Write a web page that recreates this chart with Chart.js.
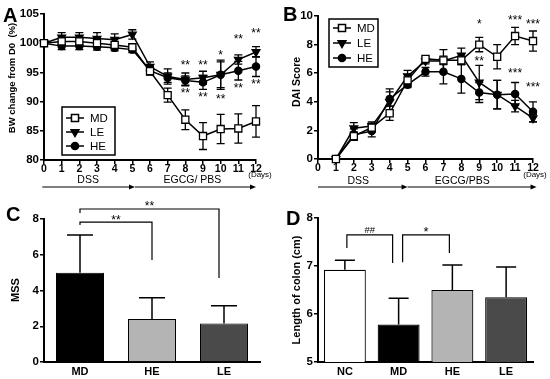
<!DOCTYPE html>
<html>
<head>
<meta charset="utf-8">
<script src="https://cdn.jsdelivr.net/npm/chart.js@4.4.1/dist/chart.umd.min.js"></script>
<style>
  body { margin: 0; background: #fff; }
  #wrap { position: relative; width: 550px; height: 379px; }
  canvas { position: absolute; }
</style>
</head>
<body>
<div id="wrap">
  <canvas id="a" width="275" height="200" style="left:0;top:0"></canvas>
  <canvas id="b" width="275" height="200" style="left:275px;top:0"></canvas>
  <canvas id="c" width="275" height="189" style="left:0;top:190px"></canvas>
  <canvas id="d" width="275" height="189" style="left:275px;top:190px"></canvas>
</div>
<script>
// panel A - body weight change (%)
const daysA = [0, 1, 2, 3, 4, 5, 6, 7, 8, 9, 10, 11, 12];
const bwMD = [100, 100.3, 100.3, 100.0, 99.7, 99.3, 95.2, 91.1, 86.9, 84.1, 85.3, 85.4, 86.6];
const bwMDerr = [0, 0.5, 0.5, 0.5, 0.5, 0.5, 0.6, 1.2, 1.7, 2.3, 2.5, 2.5, 2.7];
const bwLE = [100, 101.0, 101.0, 100.8, 100.6, 101.5, 96.0, 94.3, 93.8, 94.1, 94.6, 97.2, 98.5];
const bwLEerr = [0, 0.8, 0.8, 1.0, 1.0, 0.8, 0.8, 1.3, 1.1, 1.1, 2.2, 0.8, 0.9];
const bwHE = [100, 99.5, 99.5, 99.4, 99.2, 98.9, 95.3, 94.1, 93.6, 93.3, 94.6, 95.3, 96.0];
const bwHEerr = [0, 0.6, 0.6, 0.6, 0.5, 0.5, 0.7, 0.8, 0.8, 1.2, 2.5, 1.6, 1.7];
const starDaysA = [8, 9, 10, 11, 12];
const starTopA = ['**', '**', '*', '**', '**'];
const starTopAy = [96.6, 96.6, 98.3, 101.0, 102.1];
const starLowA = ['**', '**', '**', '**', '**'];
const starLowAy = [91.8, 91.1, 90.8, 92.7, 93.4];

// panel B - DAI score
const daysB = [1, 2, 3, 4, 5, 6, 7, 8, 9, 10, 11, 12];
const daiMD = [0, 1.6, 2.2, 3.2, 5.5, 7.0, 6.9, 6.9, 8.0, 7.15, 8.6, 8.25];
const daiMDerr = [0, 0.3, 0.3, 0.5, 0.4, 0.2, 0.3, 0.3, 0.5, 0.85, 0.6, 0.7];
const daiLE = [0, 2.15, 2.3, 4.0, 5.8, 6.85, 6.85, 7.25, 5.35, 4.5, 3.7, 2.85];
const daiLEerr = [0, 0.4, 0.3, 0.9, 0.4, 0.2, 0.8, 0.5, 1.2, 1.0, 0.4, 0.25];
const daiHE = [0, 1.7, 1.95, 4.2, 5.2, 6.1, 6.1, 5.6, 4.65, 4.5, 4.55, 3.3];
const daiHEerr = [0, 0.4, 0.4, 0.5, 0.2, 0.3, 0.85, 1.0, 0.7, 1.0, 0.8, 0.7];
const starDaysB = [9, 11, 12];
const starTopB = ['*', '***', '***'];
const starTopBy = [9.6, 9.84, 9.6];
const starLowB = ['**', '***', '***'];
const starLowBy = [6.97, 6.17, 5.17];

// panel C - MSS
const groupsC = ['MD', 'HE', 'LE'];
const mss = [5.0, 2.4, 2.15];
const mssErr = [2.1, 1.2, 1.0];

// panel D - colon length (cm)
const groupsD = ['NC', 'MD', 'HE', 'LE'];
const colon = [6.92, 5.78, 6.5, 6.35];
const colonErr = [0.2, 0.55, 0.52, 0.63];

const FONT = '"Liberation Sans", Arial, sans-serif';

function txt(ctx, s, x, y, size, bold, align, base) {
  ctx.save();
  ctx.fillStyle = '#000';
  ctx.font = (bold ? 'bold ' : '') + size + 'px ' + FONT;
  ctx.textAlign = align || 'center';
  ctx.textBaseline = base || 'middle';
  ctx.fillText(s, x, y);
  ctx.restore();
}

function vtxt(ctx, s, x, y, size) {
  ctx.save();
  ctx.translate(x, y);
  ctx.rotate(-Math.PI / 2);
  txt(ctx, s, 0, 0, size, true);
  ctx.restore();
}

function arrow(ctx, x1, x2, y) {
  ctx.save();
  ctx.strokeStyle = '#000';
  ctx.fillStyle = '#000';
  ctx.lineWidth = 1.2;
  ctx.beginPath();
  ctx.moveTo(x1, y);
  ctx.lineTo(x2 - 4, y);
  ctx.stroke();
  ctx.beginPath();
  ctx.moveTo(x2, y);
  ctx.lineTo(x2 - 6, y - 2.5);
  ctx.lineTo(x2 - 6, y + 2.5);
  ctx.closePath();
  ctx.fill();
  ctx.restore();
}

// asterisks: baseline a bit under the visual centre of the glyphs
function stars(chart, days, labels, vals) {
  const xs = chart.scales.x, ys = chart.scales.y;
  days.forEach((d, i) => {
    txt(chart.ctx, labels[i], xs.getPixelForValue(d), ys.getPixelForValue(vals[i]) + 6, 12, false, 'center', 'alphabetic');
  });
}

function legend(ctx, x, y, w, h, rows, dsets) {
  ctx.save();
  ctx.strokeStyle = '#000';
  ctx.lineWidth = 1.5;
  ctx.strokeRect(x, y, w, h);
  dsets.forEach((ds, i) => {
    const ry = rows[i];
    ctx.lineWidth = 1.5;
    ctx.beginPath();
    ctx.moveTo(x + 4, ry);
    ctx.lineTo(x + 22, ry);
    ctx.stroke();
    ctx.fillStyle = ds.pointBackgroundColor;
    ctx.strokeStyle = '#000';
    Chart.helpers.drawPoint(ctx, {
      pointStyle: ds.pointStyle, radius: ds.pointRadius,
      rotation: ds.pointRotation || 0, borderWidth: 1.3
    }, x + 13, ry);
    txt(ctx, ds.label, x + 28, ry + 0.5, 11.5, false, 'left');
  });
  ctx.restore();
}

const errPlugin = {
  id: 'errbars',
  beforeDatasetsDraw(chart, args, opts) { if (opts.below) draw(chart, opts); },
  afterDatasetsDraw(chart, args, opts) { if (!opts.below) draw(chart, opts); }
};
function draw(chart, opts) {
  const ctx = chart.ctx, ys = chart.scales.y;
  ctx.save();
  ctx.strokeStyle = '#000';
  ctx.lineWidth = opts.width;
  chart.data.datasets.forEach((ds, i) => {
    const err = opts.errors[i];
    if (!err) return;
    chart.getDatasetMeta(i).data.forEach((el, j) => {
      const e = err[j];
      if (!e) return;
      const v = ds.data[j];
      const yv = typeof v === 'object' ? v.y : v;
      const top = ys.getPixelForValue(yv + e);
      const bot = opts.upOnly ? ys.getPixelForValue(yv) : ys.getPixelForValue(yv - e);
      ctx.beginPath();
      ctx.moveTo(el.x, bot); ctx.lineTo(el.x, top);
      ctx.moveTo(el.x - opts.cap, top); ctx.lineTo(el.x + opts.cap, top);
      if (!opts.upOnly) { ctx.moveTo(el.x - opts.cap, bot); ctx.lineTo(el.x + opts.cap, bot); }
      ctx.stroke();
    });
  });
  ctx.restore();
}

function brackets(chart, list) {
  const ctx = chart.ctx, xs = chart.scales.x, ys = chart.scales.y;
  ctx.save();
  ctx.strokeStyle = '#000';
  ctx.lineWidth = 1.2;
  list.forEach(b => {
    const x1 = xs.getPixelForValue(b.from) + b.li;
    const x2 = xs.getPixelForValue(b.to) - b.ri;
    const yt = ys.getPixelForValue(b.top);
    ctx.beginPath();
    ctx.moveTo(x1, ys.getPixelForValue(b.l));
    ctx.lineTo(x1, yt);
    ctx.lineTo(x2, yt);
    ctx.lineTo(x2, ys.getPixelForValue(b.r));
    ctx.stroke();
    txt(ctx, b.label, (x1 + x2) / 2, ys.getPixelForValue(b.ly) + 5.5, b.size, false, 'center', 'alphabetic');
  });
  ctx.restore();
}

const yFont = { family: FONT, size: 11.5, weight: 'bold' };
const xFont = { family: FONT, size: 10.5, weight: 'bold' };
function axis(extra, fit, font, pad) {
  const o = Object.assign({
    grid: { drawOnChartArea: false, color: '#000', tickLength: 4, lineWidth: 1.5 },
    border: { color: '#000', width: 2 },
    afterFit: fit
  }, extra);
  o.ticks = Object.assign({ color: '#000', font: font, padding: pad, autoSkip: false, maxRotation: 0 }, extra.ticks || {});
  return o;
}

function lineSets(x, md, le, he) {
  const pts = arr => arr.map((v, i) => ({ x: x[i], y: v }));
  const base = { borderColor: '#000', borderWidth: 1.5, pointBorderColor: '#000', pointBorderWidth: 1.3, clip: false, tension: 0 };
  return [
    Object.assign({ label: 'MD', data: pts(md), pointStyle: 'rect', pointRadius: 5, pointBackgroundColor: '#fff' }, base),
    Object.assign({ label: 'LE', data: pts(le), pointStyle: 'triangle', pointRotation: 180, pointRadius: 4.5, pointBackgroundColor: '#000' }, base),
    Object.assign({ label: 'HE', data: pts(he), pointStyle: 'circle', pointRadius: 3.6, pointBackgroundColor: '#000' }, base)
  ];
}

const common = { responsive: false, animation: false, events: [] };

// A
new Chart(document.getElementById('a'), {
  type: 'line',
  data: { datasets: lineSets(daysA, bwMD, bwLE, bwHE) },
  options: Object.assign({}, common, {
    layout: { padding: { top: 14, right: 19, left: 0, bottom: 0 } },
    plugins: {
      legend: { display: false }, tooltip: { enabled: false },
      errbars: { errors: [bwMDerr, bwLEerr, bwHEerr], cap: 4, width: 1.3, below: true }
    },
    scales: {
      x: axis({ type: 'linear', min: 0, max: 12, ticks: { stepSize: 1 } }, s => { s.height = 40; }, xFont, -1),
      y: axis({ min: 80, max: 105, ticks: { stepSize: 5 } }, s => { s.width = 44; }, yFont, 1)
    }
  }),
  plugins: [errPlugin, {
    id: 'extrasA',
    afterDraw(chart) {
      const ctx = chart.ctx, xs = chart.scales.x;
      txt(ctx, 'A', 3, 16, 20, true, 'left');
      vtxt(ctx, 'BW change from D0  (%)', 12, 78, 9.5);
      txt(ctx, '(Days)', 260, 175, 8, false);
      arrow(ctx, xs.getPixelForValue(-0.1), xs.getPixelForValue(5.15), 187);
      arrow(ctx, xs.getPixelForValue(5.15), xs.getPixelForValue(12), 187);
      txt(ctx, 'DSS', xs.getPixelForValue(2.5), 180, 10.5, false);
      txt(ctx, 'EGCG/ PBS', xs.getPixelForValue(8.4), 180, 10.5, false);
      stars(chart, starDaysA, starTopA, starTopAy);
      stars(chart, starDaysA, starLowA, starLowAy);
      legend(ctx, 62, 107, 53, 48, [118, 132, 146], chart.data.datasets);
    }
  }]
});

// B
new Chart(document.getElementById('b'), {
  type: 'line',
  data: { datasets: lineSets(daysB, daiMD, daiLE, daiHE) },
  options: Object.assign({}, common, {
    layout: { padding: { top: 16, right: 17, left: 0, bottom: 0 } },
    plugins: {
      legend: { display: false }, tooltip: { enabled: false },
      errbars: { errors: [daiMDerr, daiLEerr, daiHEerr], cap: 4, width: 1.3, below: true }
    },
    scales: {
      x: axis({ type: 'linear', min: 0, max: 12, ticks: { stepSize: 1 } }, s => { s.height = 41; }, xFont, -1),
      y: axis({ min: 0, max: 10, ticks: { stepSize: 2 } }, s => { s.width = 43; }, yFont, 1)
    }
  }),
  plugins: [errPlugin, {
    id: 'extrasB',
    afterDraw(chart) {
      const ctx = chart.ctx, xs = chart.scales.x;
      txt(ctx, 'B', 8, 15, 20, true, 'left');
      vtxt(ctx, 'DAI Score', 22, 82, 10.5);
      txt(ctx, '(Days)', 260, 175, 8, false);
      arrow(ctx, xs.getPixelForValue(0), xs.getPixelForValue(5), 187);
      arrow(ctx, xs.getPixelForValue(5), xs.getPixelForValue(12.2), 187);
      txt(ctx, 'DSS', xs.getPixelForValue(2.25), 181, 10.5, false);
      txt(ctx, 'EGCG/PBS', xs.getPixelForValue(8.05), 181, 10.5, false);
      stars(chart, starDaysB, starTopB, starTopBy);
      stars(chart, starDaysB, starLowB, starLowBy);
      legend(ctx, 54, 19, 49, 48, [28, 43, 58], chart.data.datasets);
    }
  }]
});

function barAxisX(fit) {
  return {
    ticks: { color: '#000', font: { family: FONT, size: 11, weight: 'bold' }, padding: 3 },
    grid: { display: false, drawTicks: false },
    border: { color: '#000', width: 2 },
    afterFit: fit
  };
}

// C
new Chart(document.getElementById('c'), {
  type: 'bar',
  data: {
    labels: groupsC,
    datasets: [{
      data: mss, backgroundColor: ['#000', '#b4b4b4', '#4a4a4a'],
      borderColor: '#000', borderWidth: 1, barPercentage: 0.667, categoryPercentage: 1
    }]
  },
  options: Object.assign({}, common, {
    layout: { padding: { top: 29, right: 15, left: 0, bottom: 0 } },
    plugins: {
      legend: { display: false }, tooltip: { enabled: false },
      errbars: { errors: [mssErr], cap: 13, width: 1.5, upOnly: true }
    },
    scales: {
      x: barAxisX(s => { s.height = 17; }),
      y: axis({ min: 0, max: 8, ticks: { stepSize: 2 } }, s => { s.width = 44; }, yFont, 1)
    }
  }),
  plugins: [errPlugin, {
    id: 'extrasC',
    afterDraw(chart) {
      const ctx = chart.ctx;
      txt(ctx, 'C', 6, 25, 20, true, 'left');
      vtxt(ctx, 'MSS', 16, 100, 11);
      brackets(chart, [
        { from: 0, to: 1, li: 0, ri: 0, top: 7.83, l: 7.66, r: 5.7, label: '**', ly: 8.05, size: 12 },
        { from: 0, to: 2, li: 0, ri: 5, top: 8.56, l: 8.33, r: 4.7, label: '**', ly: 8.8, size: 12 }
      ]);
    }
  }]
});

// D
new Chart(document.getElementById('d'), {
  type: 'bar',
  data: {
    labels: groupsD,
    datasets: [{
      data: colon, backgroundColor: ['#fff', '#000', '#b4b4b4', '#4a4a4a'],
      borderColor: '#000', borderWidth: 1.2, barPercentage: 0.78, categoryPercentage: 1
    }]
  },
  options: Object.assign({}, common, {
    layout: { padding: { top: 28, right: 17, left: 0, bottom: 0 } },
    plugins: {
      legend: { display: false }, tooltip: { enabled: false },
      errbars: { errors: [colonErr], cap: 10, width: 1.5, upOnly: true }
    },
    scales: {
      x: barAxisX(s => { s.height = 17; }),
      y: axis({ min: 5, max: 8, ticks: { stepSize: 1 } }, s => { s.width = 43; }, yFont, 1)
    }
  }),
  plugins: [errPlugin, {
    id: 'extrasD',
    afterDraw(chart) {
      const ctx = chart.ctx;
      txt(ctx, 'D', 11, 29, 20, true, 'left');
      vtxt(ctx, 'Length of colon (cm)', 22, 100, 11);
      brackets(chart, [
        { from: 0, to: 1, li: 2, ri: 6, top: 7.65, l: 7.375, r: 7.06, label: '##', ly: 7.81, size: 9.5 },
        { from: 1, to: 2, li: 4, ri: 3, top: 7.65, l: 7.08, r: 7.27, label: '*', ly: 7.75, size: 13 }
      ]);
    }
  }]
});
</script>
</body>
</html>
